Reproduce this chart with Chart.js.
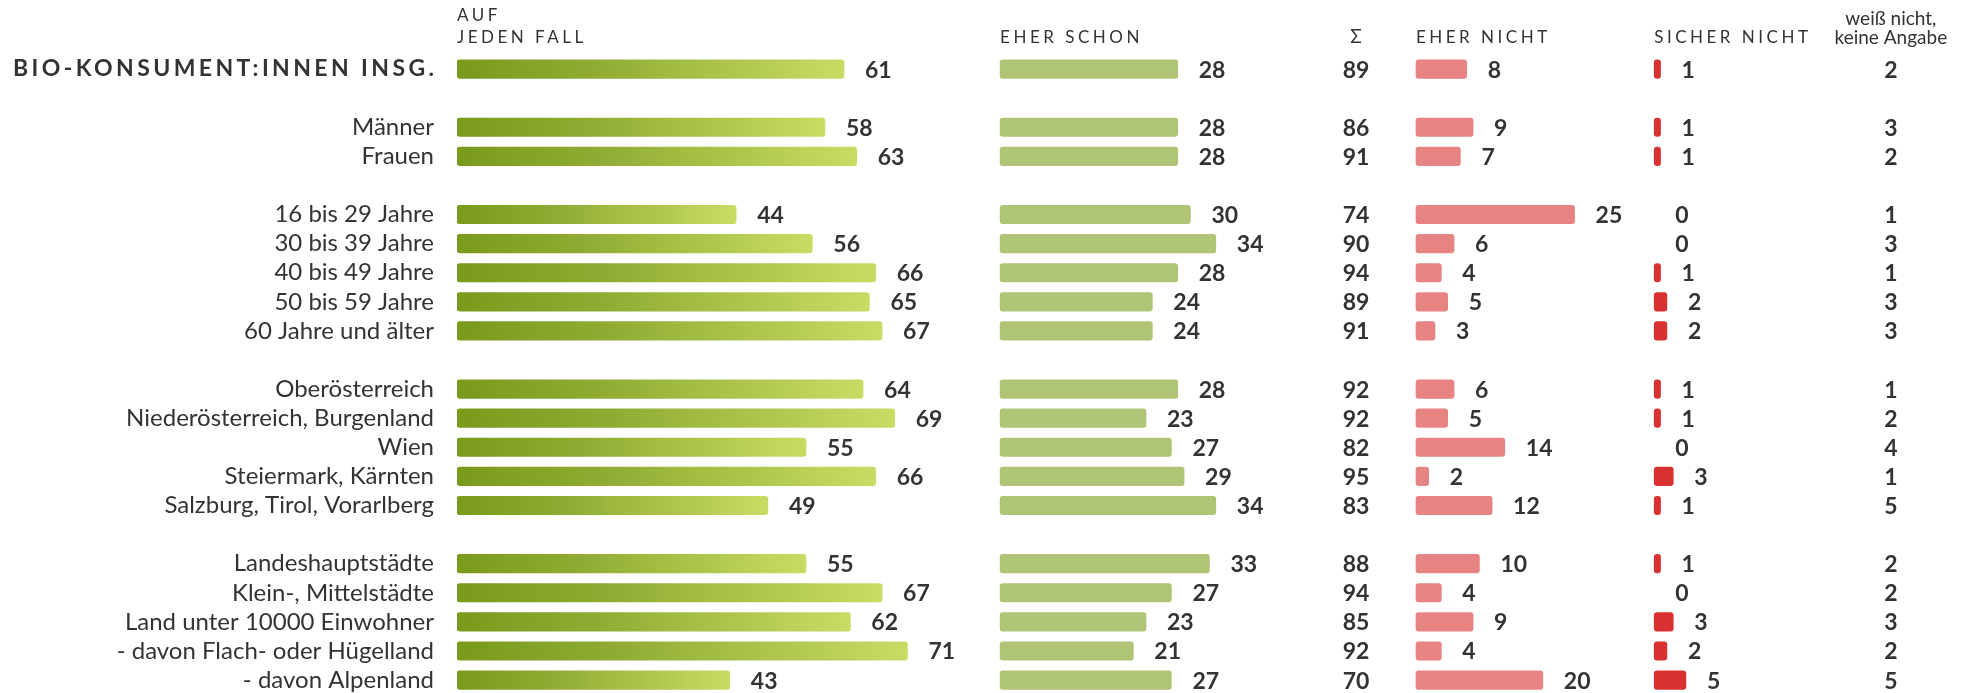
<!DOCTYPE html>
<html>
<head>
<meta charset="utf-8">
<script src="https://cdn.jsdelivr.net/npm/chart.js@4.4.0/dist/chart.umd.min.js"></script>
<style>
  html, body { margin: 0; padding: 0; background: #fff; overflow: hidden; }
  #wrap { width: 1967px; height: 693px; overflow: hidden; }
</style>
</head>
<body>
<div id="wrap"><canvas id="myChartBars" width="1967" height="732"></canvas></div>
<script>
// rows, empty strings are the gaps between groups
const categories = [
  'Bio-Konsument:innen insg.', '',
  'Männer', 'Frauen', '',
  '16 bis 29 Jahre', '30 bis 39 Jahre', '40 bis 49 Jahre', '50 bis 59 Jahre', '60 Jahre und älter', '',
  'Oberösterreich', 'Niederösterreich, Burgenland', 'Wien', 'Steiermark, Kärnten', 'Salzburg, Tirol, Vorarlberg', '',
  'Landeshauptstädte', 'Klein-, Mittelstädte', 'Land unter 10000 Einwohner', '- davon Flach- oder Hügelland', '- davon Alpenland'
];

const aufJedenFall = [61, null, 58, 63, null, 44, 56, 66, 65, 67, null, 64, 69, 55, 66, 49, null, 55, 67, 62, 71, 43];
const eherSchon    = [28, null, 28, 28, null, 30, 34, 28, 24, 24, null, 28, 23, 27, 29, 34, null, 33, 27, 23, 21, 27];
const summe        = [89, null, 86, 91, null, 74, 90, 94, 89, 91, null, 92, 92, 82, 95, 83, null, 88, 94, 85, 92, 70];
const eherNicht    = [8, null, 9, 7, null, 25, 6, 4, 5, 3, null, 6, 5, 14, 2, 12, null, 10, 4, 9, 4, 20];
const sicherNicht  = [1, null, 1, 1, null, 0, 0, 1, 2, 2, null, 1, 1, 0, 3, 1, null, 1, 0, 3, 2, 5];
const weissNicht   = [2, null, 3, 2, null, 1, 3, 1, 3, 3, null, 1, 2, 4, 1, 5, null, 2, 2, 3, 2, 5];

// where each column starts on the shared x scale (0..238)
const colStart = [0, 85.6, 151.15, 188.7];
const sumPos = 141.7;
const weissPos = 226;

const textColor = '#333333';

function floating(values, start) {
  // zero answers get no bar at all
  return values.map(v => v ? [start, start + v] : null);
}

function greenGradient(context) {
  const chart = context.chart;
  const v = context.raw;
  if (!chart.chartArea || !v) return '#a3bd45';
  const x0 = chart.scales.x.getPixelForValue(v[0]);
  const x1 = chart.scales.x.getPixelForValue(v[1]);
  const g = chart.ctx.createLinearGradient(x0, 0, x1, 0);
  g.addColorStop(0, '#7a9a1c');
  g.addColorStop(0.35, '#8fab33');
  g.addColorStop(1, '#c8dc64');
  return g;
}

const barSeries = [aufJedenFall, eherSchon, eherNicht, sicherNicht];

const tableText = {
  id: 'tableText',
  afterDraw(chart) {
    const { ctx, scales: { x, y } } = chart;
    ctx.save();
    ctx.fillStyle = textColor;

    // headers
    ctx.font = '400 17px Lato';
    ctx.letterSpacing = '3.5px';
    ctx.textAlign = 'left';
    ctx.textBaseline = 'alphabetic';
    ctx.fillText('AUF', x.getPixelForValue(colStart[0]), 21);
    ctx.fillText('JEDEN FALL', x.getPixelForValue(colStart[0]), 43);
    ctx.fillText('EHER SCHON', x.getPixelForValue(colStart[1]), 43);
    ctx.fillText('EHER NICHT', x.getPixelForValue(colStart[2]), 43);
    ctx.fillText('SICHER NICHT', x.getPixelForValue(colStart[3]), 43);
    ctx.letterSpacing = '0px';
    ctx.textAlign = 'center';
    ctx.font = '400 19px Lato';
    ctx.fillText('Σ', x.getPixelForValue(sumPos), 43);
    ctx.fillText('weiß nicht,', x.getPixelForValue(weissPos), 25);
    ctx.fillText('keine Angabe', x.getPixelForValue(weissPos), 44);

    // total row label
    ctx.font = '700 23px Lato';
    ctx.letterSpacing = '3.4px';
    ctx.textAlign = 'right';
    ctx.textBaseline = 'middle';
    ctx.fillText(categories[0].toUpperCase(), x.left - 23 + 3.4, y.getPixelForValue(0));
    ctx.letterSpacing = '0px';

    // values
    ctx.font = '700 23px Lato';
    ctx.textBaseline = 'alphabetic';
    ctx.textAlign = 'left';
    barSeries.forEach((values, i) => {
      values.forEach((v, j) => {
        if (v == null) return;
        ctx.fillText(String(v), x.getPixelForValue(colStart[i] + v) + 21, y.getPixelForValue(j) + 8.5);
      });
    });
    ctx.textAlign = 'center';
    summe.forEach((v, j) => {
      if (v == null) return;
      ctx.fillText(String(v), x.getPixelForValue(sumPos), y.getPixelForValue(j) + 8.5);
    });
    weissNicht.forEach((v, j) => {
      if (v == null) return;
      ctx.fillText(String(v), x.getPixelForValue(weissPos), y.getPixelForValue(j) + 8.5);
    });
    ctx.restore();
  }
};

const data = {
  labels: categories,
  datasets: [
    { label: 'auf jeden Fall', data: floating(aufJedenFall, colStart[0]), backgroundColor: greenGradient },
    { label: 'eher schon', data: floating(eherSchon, colStart[1]), backgroundColor: '#b0c476' },
    { label: 'eher nicht', data: floating(eherNicht, colStart[2]), backgroundColor: '#e78383' },
    { label: 'sicher nicht', data: floating(sicherNicht, colStart[3]), backgroundColor: '#d93131' }
  ]
};

const config = {
  type: 'bar',
  data: data,
  options: {
    indexAxis: 'y',
    responsive: false,
    animation: false,
    datasets: {
      bar: { grouped: false, barThickness: 18.5, borderRadius: 3, borderSkipped: false, skipNull: true }
    },
    // the y scale adds label height / 2 + tick padding below, the canvas runs past the window
    layout: { padding: { top: 54.5, bottom: 0, left: 0, right: 0 } },
    scales: {
      x: { type: 'linear', min: 0, max: 238, display: false },
      y: {
        grid: { display: false, drawTicks: false },
        border: { display: false },
        ticks: {
          autoSkip: false,
          padding: 23,
          color: textColor,
          font: { family: 'Lato', size: 24 },
          callback: (val, i) => i === 0 ? '' : categories[i]
        },
        afterFit: scale => { scale.width = 457; }
      }
    },
    plugins: {
      legend: { display: false },
      tooltip: { enabled: false }
    }
  },
  plugins: [tableText]
};

Promise.all([
  document.fonts.load('24px Lato'),
  document.fonts.load('700 23px Lato')
]).catch(() => {}).then(() => {
  const canvasElBars = document.getElementById('myChartBars');
  new Chart(canvasElBars, config);
});
</script>
</body>
</html>
